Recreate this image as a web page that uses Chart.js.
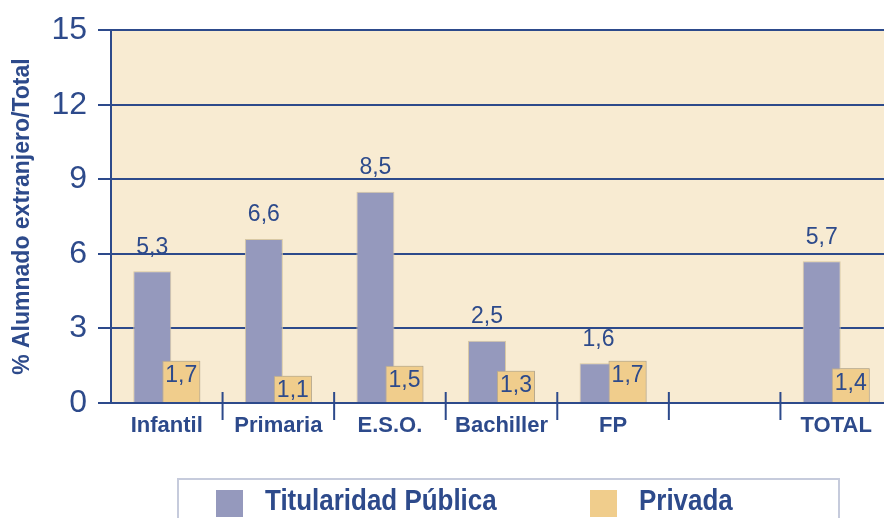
<!DOCTYPE html>
<html>
<head>
<meta charset="utf-8">
<script src="https://cdn.jsdelivr.net/npm/chart.js@4.4.1/dist/chart.umd.min.js"></script>
<style>
body{margin:0;width:884px;height:518px;overflow:hidden;background:#fff;position:relative;}
#wrap{position:absolute;left:0;top:0;width:892px;height:518px;}
#legend{position:absolute;left:177px;top:478px;width:663px;height:60px;border:2px solid #c6cbdc;box-sizing:border-box;
  font-family:"Liberation Sans",sans-serif;font-weight:bold;font-size:30px;line-height:30px;color:#2d4a8b;}
#legend .item{position:absolute;top:5px;white-space:nowrap;}
#legend .box{position:absolute;left:0;top:5px;width:27px;height:27px;}
#legend .txt{position:absolute;left:49px;top:0;display:inline-block;transform:scaleX(0.865);transform-origin:0 0;}
</style>
</head>
<body>
<div id="wrap"><canvas id="chart" width="892" height="518"></canvas></div>
<div id="legend"></div>
<script>
const categories = ['Infantil', 'Primaria', 'E.S.O.', 'Bachiller', 'FP', '', 'TOTAL'];
const publica = [5.3, 6.6, 8.5, 2.5, 1.6, null, 5.7];
const privada = [1.7, 1.1, 1.5, 1.3, 1.7, null, 1.4];
const seriesNames = ['Titularidad Pública', 'Privada'];
const yMin = 0, yMax = 15, yStep = 3;

const navy = '#2d4a8b';
const fills = ['#9599bd', '#f0cd8c'];
const borders = ['#d8c8a4', '#b9aa8e'];

// cream plot background
const plotBg = {
    id: 'plotBg',
    beforeDraw(chart) {
        const a = chart.chartArea, c = chart.ctx;
        c.save();
        c.fillStyle = '#f8ebd2';
        c.fillRect(a.left, a.top, a.right - a.left, a.bottom - a.top);
        c.restore();
    }
};

// Chart.js paints dataset 0 last; the private bars must sit on top, so paint them again
const privateOnTop = {
    id: 'privateOnTop',
    afterDatasetsDraw(chart) {
        chart.getDatasetMeta(1).controller.draw();
    }
};

// short separators between categories
const dividers = {
    id: 'dividers',
    afterDraw(chart) {
        const x = chart.scales.x, a = chart.chartArea, c = chart.ctx;
        c.save();
        c.strokeStyle = navy;
        c.lineWidth = 2;
        for (let i = 1; i < categories.length; i++) {
            const px = (x.getPixelForValue(i - 1) + x.getPixelForValue(i)) / 2;
            c.beginPath();
            c.moveTo(px, a.bottom - 11);
            c.lineTo(px, a.bottom + 17);
            c.stroke();
        }
        c.restore();
    }
};

// value labels: above public bars, inside private bars
const valueLabels = {
    id: 'valueLabels',
    afterDatasetsDraw(chart) {
        const c = chart.ctx;
        c.save();
        c.fillStyle = navy;
        c.font = '23px "Liberation Sans", sans-serif';
        c.textAlign = 'center';
        c.textBaseline = 'middle';
        chart.data.datasets.forEach((ds, di) => {
            chart.getDatasetMeta(di).data.forEach((bar, i) => {
                const v = ds.data[i];
                if (v == null) return;
                const txt = v.toFixed(1).replace('.', ',');
                const y = di === 0 ? bar.y - 24 : bar.y + 15;
                c.fillText(txt, bar.x, y);
            });
        });
        c.restore();
    }
};

new Chart(document.getElementById('chart'), {
    type: 'bar',
    data: {
        labels: categories,
        datasets: [
            { label: seriesNames[0], data: publica, backgroundColor: fills[0], borderColor: borders[0], borderWidth: 1 },
            { label: seriesNames[1], data: privada, backgroundColor: fills[1], borderColor: borders[1], borderWidth: 1 }
        ]
    },
    options: {
        responsive: false,
        animation: false,
        categoryPercentage: 0.52,
        barPercentage: 1.31,
        layout: { padding: { top: 27, right: 0, bottom: 75, left: 0 } },
        plugins: { legend: { display: false }, tooltip: { enabled: false } },
        scales: {
            x: {
                offset: true,
                grid: { display: false, drawTicks: false },
                border: { display: true, color: navy, width: 2 },
                ticks: {
                    color: navy,
                    padding: 10,
                    autoSkip: false,
                    maxRotation: 0,
                    minRotation: 0,
                    font: { family: '"Liberation Sans", sans-serif', weight: 'bold', size: 22 }
                },
                afterFit(scale) { scale.height = 40; }
            },
            y: {
                min: yMin,
                max: yMax,
                ticks: {
                    stepSize: yStep,
                    color: navy,
                    padding: 11,
                    font: { family: '"Liberation Sans", sans-serif', size: 32 }
                },
                grid: { color: navy, lineWidth: 2, tickLength: 13 },
                border: { display: true, color: navy, width: 2 },
                title: {
                    display: true,
                    text: '% Alumnado extranjero/Total',
                    color: navy,
                    padding: { top: 9, bottom: 0 },
                    font: { family: '"Liberation Sans", sans-serif', weight: 'bold', size: 23 }
                },
                afterFit(scale) { scale.width = 111; }
            }
        }
    },
    plugins: [plotBg, privateOnTop, dividers, valueLabels]
});

// legend
const legend = document.getElementById('legend');
const legendLeft = [37, 411];
seriesNames.forEach((name, i) => {
    const item = document.createElement('div');
    item.className = 'item';
    item.style.left = legendLeft[i] + 'px';
    const box = document.createElement('span');
    box.className = 'box';
    box.style.background = fills[i];
    const txt = document.createElement('span');
    txt.className = 'txt';
    txt.textContent = name;
    item.appendChild(box);
    item.appendChild(txt);
    legend.appendChild(item);
});
</script>
</body>
</html>
